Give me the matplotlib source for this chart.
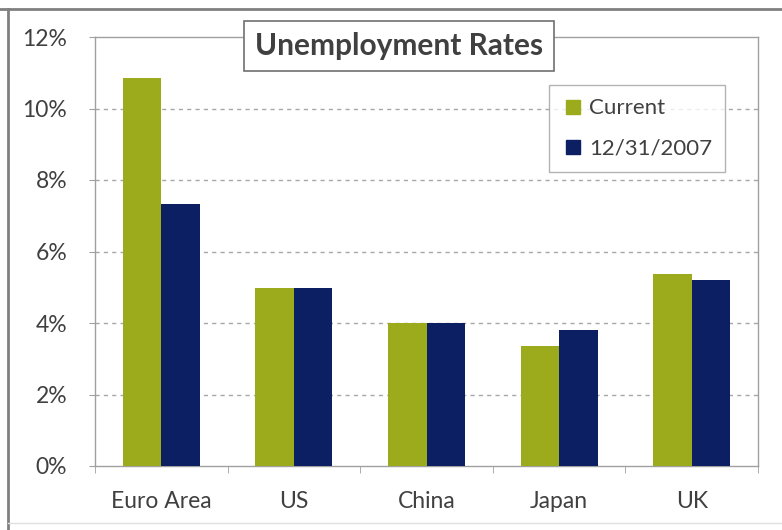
import matplotlib
matplotlib.use("Agg")
import matplotlib.pyplot as plt
import numpy as np
from matplotlib.lines import Line2D

categories = ["Euro Area", "US", "China", "Japan", "UK"]
current = [10.85, 4.98, 4.0, 3.35, 5.37]
dec2007 = [7.33, 4.98, 4.0, 3.8, 5.2]
series_names = ["Current", "12/31/2007"]
yticks = [0, 2, 4, 6, 8, 10, 12]
ytick_labels = ["0%", "2%", "4%", "6%", "8%", "10%", "12%"]
title = "Unemployment Rates"

green = "#9BAB1C"
navy = "#0C1F63"
txt = "#404040"
plt.rcParams['font.family'] = ['Lato', 'DejaVu Sans']

fig = plt.figure(figsize=(7.82, 5.30), dpi=100)
W, H = 782, 530
ax = fig.add_axes([95 / W, 1 - 466 / H, (758 - 95) / W, (466 - 37) / H])

x = np.arange(len(categories))
bw = 0.29
ax.bar(x - bw / 2, current, bw, color=green, label=series_names[0], zorder=3)
ax.bar(x + bw / 2, dec2007, bw, color=navy, label=series_names[1], zorder=3)

ax.set_xlim(-0.5, len(categories) - 0.5)
ax.set_ylim(0, 12)
ax.set_yticks(yticks)
ax.set_yticklabels(ytick_labels, fontsize=16.5, color=txt)
ax.set_xticks(x)
ax.set_xticklabels(categories, fontsize=16.5, color=txt)
ax.tick_params(axis='x', length=0, pad=18)
ax.tick_params(axis='y', length=4, color="#A0A0A0", pad=16)
ax.set_xticks(np.arange(-0.5, len(categories), 1), minor=True)
ax.tick_params(axis='x', which='minor', length=5, color="#A0A0A0")

for yv in yticks[1:-1]:
    ax.axhline(yv, color="#A8A8A8", lw=1.0, ls=(0, (3, 3)), zorder=1)

for s in ax.spines.values():
    s.set_color("#A0A0A0")
    s.set_linewidth(1.0)

# title box
fig.text(399 / W, 1 - 46 / H, title, ha='center', va='center', fontsize=21.5,
         fontweight='bold', color=txt,
         bbox=dict(boxstyle='square,pad=0.38', fc='white', ec='#707070', lw=1.2))

# legend
handles = [Line2D([], [], marker='s', ls='', color=green, markersize=10),
           Line2D([], [], marker='s', ls='', color=navy, markersize=10)]
leg = ax.legend(handles, series_names, loc='upper left',
                bbox_to_anchor=((549 - 95) / (758 - 95), 1 - (85 - 37) / (466 - 37)),
                fontsize=16, frameon=True, fancybox=False, edgecolor='#A0A0A0',
                handletextpad=0.2, handlelength=1.0, labelspacing=0.9,
                borderpad=0.6, borderaxespad=0)
for t in leg.get_texts():
    t.set_color(txt)
leg.get_frame().set_linewidth(1.0)

# outer border
fig.add_artist(Line2D([0, 1], [1 - 9 / H, 1 - 9 / H], transform=fig.transFigure, color="#808080", lw=2))
fig.add_artist(Line2D([8 / W, 8 / W], [0, 1 - 9 / H], transform=fig.transFigure, color="#808080", lw=2))
fig.add_artist(Line2D([8 / W, 1], [1 - 523 / H, 1 - 523 / H], transform=fig.transFigure, color="#E0E0E0", lw=1))

fig.savefig("out.png", dpi=100)
